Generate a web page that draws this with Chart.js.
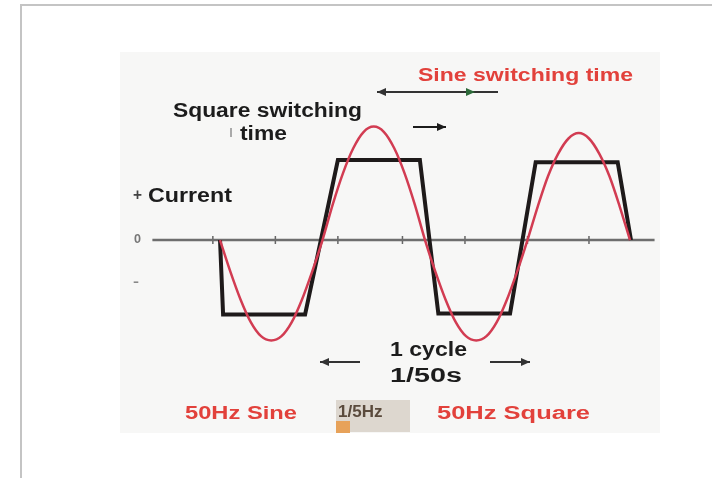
<!DOCTYPE html>
<html>
<head>
<meta charset="utf-8">
<script src="https://cdn.jsdelivr.net/npm/chart.js@4.4.1/dist/chart.umd.min.js"></script>
<style>
  html, body { margin: 0; padding: 0; background: #ffffff; }
  #wrap { position: relative; width: 712px; height: 478px; overflow: hidden; }
  #frame { position: absolute; left: 20px; top: 4px; width: 720px; height: 500px;
           border-top: 2px solid #c4c4c4; border-left: 2px solid #c4c4c4; box-sizing: border-box; }
  canvas { position: absolute; left: 0; top: 0; }
</style>
</head>
<body>
<div id="wrap">
  <div id="frame"></div>
  <canvas id="c" width="712" height="478"></canvas>
</div>
<script>
// ---- data (time in ms, current in relative units) ----
const sineTimes = [0,1,2,3,4,5,6,7,8,9,10,11,12,13,14,15,16,17,18,19,20,21,22,23,24,25,26,27,28,29,30,31,32,33,34,35,36,37,38,39,40];
const sineValues = [0,-0.29,-0.55,-0.76,-0.89,-0.93,-0.89,-0.76,-0.55,-0.29,0,
                    0.33,0.62,0.85,1.0,1.05,1.0,0.85,0.62,0.33,0,
                    -0.29,-0.55,-0.76,-0.89,-0.93,-0.89,-0.76,-0.55,-0.29,0,
                    0.31,0.59,0.8,0.94,0.99,0.94,0.8,0.59,0.31,0];
const squareTimes = [0,0.3,8.3,11.5,19.5,21.3,28.3,30.8,38.8,40.1];
const squareValues = [0,-0.69,-0.69,0.74,0.74,-0.68,-0.68,0.72,0.72,0];
const axisTimes = [-6.6, 42.4];
const axisValues = [0, 0];
const axisTickTimes = [-0.7, 5.4, 11.5, 17.8, 23.9, 30.0, 36.0];

const toXY = (xs, ys) => xs.map((x, i) => ({ x: x, y: ys[i] }));

// ---- annotations (pixel layout) ----
const labels = [
  { text: 'Sine switching time', x: 418, y: 76, w: 215, size: 19, color: '#e2413b' },
  { text: 'Square switching',    x: 173, y: 111, w: 189, size: 20, color: '#1c1c1c' },
  { text: 'time',                x: 240, y: 134, w: 47,  size: 20, color: '#1c1c1c' },
  { text: '+',                   x: 133, y: 196, w: 9,   size: 16, color: '#444444' },
  { text: 'Current',             x: 148, y: 196, w: 84,  size: 20, color: '#1c1c1c' },
  { text: '0',                   x: 134, y: 240, w: 7,   size: 12, color: '#777777' },
  { text: '-',                   x: 133, y: 283, w: 6,   size: 12, color: '#888888' },
  { text: '1 cycle',             x: 390, y: 350, w: 77,  size: 20, color: '#1c1c1c' },
  { text: '1/50s',               x: 390, y: 376, w: 72,  size: 20, color: '#1c1c1c' },
  { text: '50Hz Sine',           x: 185, y: 414, w: 112, size: 18, color: '#e2413b' },
  { text: '50Hz Square',         x: 437, y: 414, w: 153, size: 18, color: '#e2413b' }
];
const arrows = [
  { x1: 498, x2: 377, y: 92, head: 'left',  color: '#333333' },
  { x1: 472, x2: 472, y: 92, head: 'dot',   color: '#2e6b3a' },
  { x1: 413, x2: 446, y: 127, head: 'right', color: '#1c1c1c' },
  { x1: 360, x2: 320, y: 362, head: 'left',  color: '#333333' },
  { x1: 490, x2: 530, y: 362, head: 'right', color: '#333333' }
];

const decor = {
  id: 'decor',
  beforeDraw(chart) {
    const { ctx, chartArea: a } = chart;
    ctx.save();
    ctx.fillStyle = '#f7f7f6';
    ctx.fillRect(a.left, a.top, a.right - a.left, a.bottom - a.top);
    ctx.restore();
  },
  afterDatasetsDraw(chart) {
    const { ctx } = chart;
    ctx.save();
    ctx.textBaseline = 'middle';
    ctx.textAlign = 'left';
    labels.forEach(l => {
      ctx.font = 'bold ' + l.size + 'px "Liberation Sans", Arial, sans-serif';
      const m = ctx.measureText(l.text).width;
      const sx = l.w / m;
      ctx.save();
      ctx.translate(l.x, l.y);
      ctx.scale(sx, 1);
      ctx.fillStyle = l.color;
      ctx.fillText(l.text, 0, 0);
      ctx.restore();
    });
    // small mark before "time"
    ctx.fillStyle = '#aaa';
    ctx.fillRect(230, 128, 2, 9);
    // logo block
    ctx.fillStyle = '#ddd7cf';
    ctx.fillRect(336, 400, 74, 32);
    ctx.fillStyle = '#e7a25a';
    ctx.fillRect(336, 421, 14, 12);
    ctx.font = 'bold 17px "Liberation Sans", Arial, sans-serif';
    ctx.fillStyle = '#5a4a3c';
    ctx.fillText('1/5Hz', 338, 412);
    // arrows
    arrows.forEach(ar => {
      ctx.strokeStyle = ar.color;
      ctx.fillStyle = ar.color;
      ctx.lineWidth = 2;
      if (ar.head === 'dot') {
        ctx.beginPath();
        ctx.moveTo(ar.x1 - 6, ar.y - 4);
        ctx.lineTo(ar.x1 + 3, ar.y);
        ctx.lineTo(ar.x1 - 6, ar.y + 4);
        ctx.closePath();
        ctx.fill();
        return;
      }
      ctx.beginPath();
      ctx.moveTo(ar.x1, ar.y);
      ctx.lineTo(ar.x2, ar.y);
      ctx.stroke();
      const dir = ar.head === 'left' ? -1 : 1;
      const tip = ar.x2;
      ctx.beginPath();
      ctx.moveTo(tip, ar.y);
      ctx.lineTo(tip - dir * 9, ar.y - 4);
      ctx.lineTo(tip - dir * 9, ar.y + 4);
      ctx.closePath();
      ctx.fill();
    });
    ctx.restore();
  }
};

new Chart(document.getElementById('c'), {
  type: 'line',
  data: {
    datasets: [
      { label: 'axis', data: toXY(axisTimes, axisValues), borderColor: '#6e6e6e', borderWidth: 2.5,
        pointRadius: 0, tension: 0, order: 3 },
      { label: 'ticks', data: toXY(axisTickTimes, axisTickTimes.map(() => 0)), showLine: false,
        pointStyle: 'line', rotation: 90, pointRadius: 4, pointBorderColor: '#666', pointBorderWidth: 1.5, order: 3 },
      { label: 'sine', data: toXY(sineTimes, sineValues), borderColor: '#d23c52', borderWidth: 2.5,
        pointRadius: 0, tension: 0.4, cubicInterpolationMode: 'monotone', order: 1 },
      { label: 'square', data: toXY(squareTimes, squareValues), borderColor: '#1e1a1a', borderWidth: 4,
        pointRadius: 0, tension: 0, borderJoinStyle: 'miter', order: 2 }
    ]
  },
  options: {
    responsive: false,
    animation: false,
    layout: { padding: { left: 120, top: 52, right: 52, bottom: 45 } },
    plugins: { legend: { display: false }, tooltip: { enabled: false } },
    scales: {
      x: { type: 'linear', min: -9.76, max: 42.93, display: false },
      y: { type: 'linear', min: -1.787, max: 1.741, display: false }
    }
  },
  plugins: [decor]
});
</script>
</body>
</html>
